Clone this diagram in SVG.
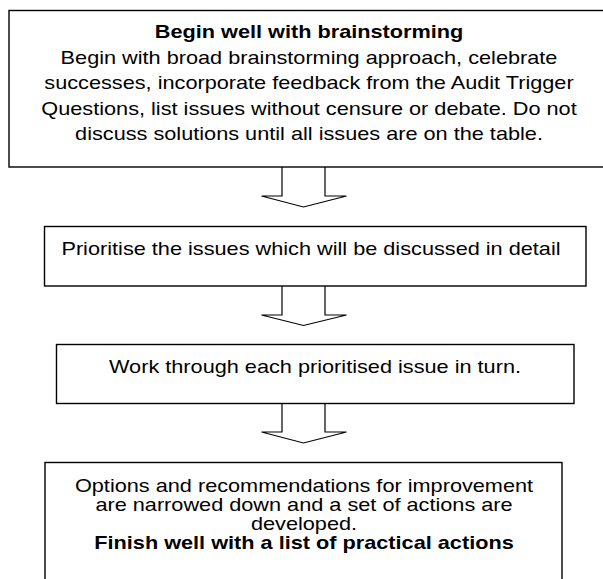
<svg xmlns="http://www.w3.org/2000/svg" width="603" height="579" viewBox="0 0 603 579">
<style>
.box{fill:#fff;stroke:#000;stroke-width:1.4}
.arr{fill:#fff;stroke:#000;stroke-width:1.2;stroke-linejoin:miter}
text{font-family:"Liberation Sans",Arial,sans-serif;font-size:18.5px;fill:#000;text-anchor:middle}
.b{font-weight:bold}
</style>
<rect width="603" height="579" fill="#fff"/>
<g id="connectors">
<path class="arr" d="M282,167 V196 H261.5 L303.5,207 L346.5,196 H325 V167"/>
<path class="arr" d="M282,286 V315 H261.5 L303.5,325.5 L346.5,315 H325 V286"/>
<path class="arr" d="M282,403.5 V432 H261.5 L303.5,443 L346.5,432 H325 V403.5"/>
</g>
<g id="node1">
<rect class="box" x="9" y="10.5" width="602" height="156.5"/>
<g transform="translate(309,0) scale(1.173,1)">
<text class="b" x="0" y="38.5">Begin well with brainstorming</text>
<text x="0" y="64">Begin with broad brainstorming approach, celebrate</text>
<text x="0" y="89.5">successes, incorporate feedback from the Audit Trigger</text>
<text x="0" y="115">Questions, list issues without censure or debate. Do not</text>
<text x="0" y="140.5">discuss solutions until all issues are on the table.</text>
</g>
</g>
<g id="node2">
<rect class="box" x="44.5" y="226.5" width="541.5" height="59.5"/>
<g transform="translate(311,0) scale(1.173,1)">
<text x="0" y="255">Prioritise the issues which will be discussed in detail</text>
</g>
</g>
<g id="node3">
<rect class="box" x="56.5" y="344.5" width="517.5" height="59"/>
<g transform="translate(315,0) scale(1.173,1)">
<text x="0" y="373">Work through each prioritised issue in turn.</text>
</g>
</g>
<g id="node4">
<rect class="box" x="45" y="462.5" width="517" height="125"/>
<g transform="translate(304,0) scale(1.173,1)">
<text x="0" y="492">Options and recommendations for improvement</text>
<text x="0" y="511">are narrowed down and a set of actions are</text>
<text x="0" y="530">developed.</text>
<text class="b" x="0" y="549">Finish well with a list of practical actions</text>
</g>
</g>
</svg>
